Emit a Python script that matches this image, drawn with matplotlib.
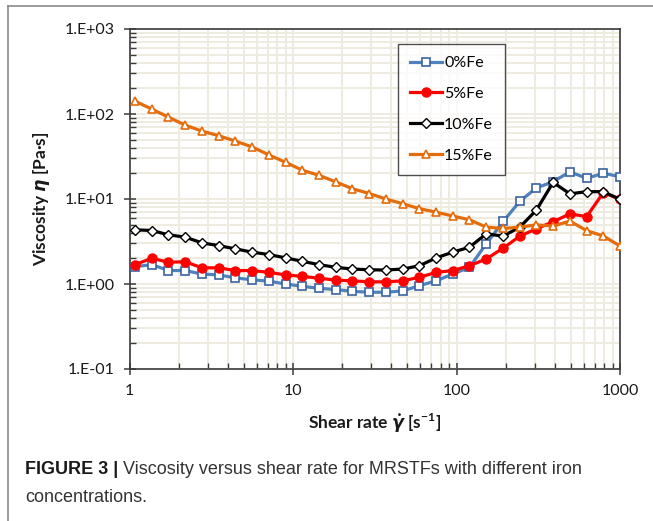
import matplotlib
matplotlib.use("Agg")
import matplotlib.pyplot as plt
from matplotlib.ticker import LogLocator, FixedLocator, FixedFormatter, NullFormatter
from matplotlib.lines import Line2D

# ---- data ----
shear_rate = [1.08, 1.37, 1.73, 2.19, 2.77, 3.51, 4.44, 5.62, 7.12, 9.01,
              11.4, 14.4, 18.3, 23.1, 29.3, 37.0, 46.9, 59.3, 75.1, 95.0,
              120, 152, 193, 244, 308, 390, 494, 625, 791, 1000]
fe0 = [1.60, 1.69, 1.44, 1.44, 1.31, 1.28, 1.18, 1.12, 1.08, 1.00,
       0.94, 0.89, 0.86, 0.82, 0.80, 0.80, 0.83, 0.955, 1.09, 1.31,
       1.57, 2.97, 5.44, 9.4, 13.5, 16.0, 20.9, 17.5, 20.1, 18.3]
fe5 = [1.69, 2.01, 1.80, 1.83, 1.55, 1.55, 1.44, 1.44, 1.37, 1.28,
       1.23, 1.17, 1.11, 1.09, 1.06, 1.06, 1.09, 1.20, 1.37, 1.44,
       1.64, 1.97, 2.64, 3.66, 4.46, 5.4, 6.7, 6.2, 11.9, 9.9]
fe10 = [4.34, 4.26, 3.79, 3.56, 3.05, 2.83, 2.59, 2.37, 2.22, 2.03,
        1.85, 1.69, 1.57, 1.50, 1.47, 1.46, 1.50, 1.64, 2.03, 2.37,
        2.71, 3.89, 3.66, 4.67, 7.4, 15.7, 11.5, 12.2, 12.2, 9.9]
fe15 = [142, 114, 92, 74, 63, 55.5, 48, 41, 33, 27,
        21.8, 19, 15.9, 13.2, 11.6, 10.0, 8.8, 7.7, 7.0, 6.3,
        5.7, 4.67, 4.5, 4.67, 4.97, 4.8, 5.5, 4.24, 3.67, 2.8]
labels = ["0%Fe", "5%Fe", "10%Fe", "15%Fe"]
x_ticks = [1, 10, 100, 1000]
x_ticklabels = ["1", "10", "100", "1000"]
y_ticks = [0.1, 1, 10, 100, 1000]
y_ticklabels = ["1.E-01", "1.E+00", "1.E+01", "1.E+02", "1.E+03"]

plt.rcParams['font.family'] = ['Lato', 'DejaVu Sans']
plt.rcParams['mathtext.fontset'] = 'custom'
plt.rcParams['mathtext.rm'] = 'Lato:bold'
plt.rcParams['mathtext.it'] = 'DejaVu Sans:italic:bold'
plt.rcParams['mathtext.bf'] = 'Lato:bold'

fig = plt.figure(figsize=(6.53, 5.21), dpi=100)
ax = fig.add_axes([129.5/653, 1-369/521, (620-129.5)/653, (369-29)/521])

grid_c = '#eeebe1'
styles = [
    dict(color='#4f81bd', marker='s', mfc='white', mec='#3b64a0', ms=6.0, mew=1.2),
    dict(color='#ff0000', marker='o', mfc='#ff0000', mec='#ff0000', ms=6.5, mew=1.0),
    dict(color='#000000', marker='D', mfc='white', mec='#000000', ms=5.0, mew=1.0),
    dict(color='#e46c0a', marker='^', mfc='white', mec='#e46c0a', ms=6.0, mew=1.2),
]
for ys, lab, st in zip([fe0, fe5, fe10, fe15], labels, styles):
    ax.plot(shear_rate, ys, lw=2.3, label=lab, zorder=3, **st)

ax.set_xscale('log')
ax.set_yscale('log')
ax.set_xlim(1, 1000)
ax.set_ylim(0.1, 1000)

ax.xaxis.set_major_locator(FixedLocator(x_ticks))
ax.xaxis.set_major_formatter(FixedFormatter(x_ticklabels))
ax.yaxis.set_major_locator(FixedLocator(y_ticks))
ax.yaxis.set_major_formatter(FixedFormatter(y_ticklabels))
ax.xaxis.set_minor_locator(LogLocator(base=10, subs=range(2, 10)))
ax.yaxis.set_minor_locator(LogLocator(base=10, subs=range(2, 10)))
ax.xaxis.set_minor_formatter(NullFormatter())
ax.yaxis.set_minor_formatter(NullFormatter())

ax.grid(True, which='both', color=grid_c, lw=1.4, zorder=0)
ax.set_axisbelow(True)

for s in ax.spines.values():
    s.set_color('#3a3a3a')
    s.set_linewidth(1.2)

ax.tick_params(axis='both', which='major', direction='inout', length=9, width=1.1,
               color='#3a3a3a', labelsize=11.5, labelcolor='#1a1a1a')
ax.tick_params(axis='both', which='minor', direction='in', length=4, width=1.0,
               color='#3a3a3a')
ax.tick_params(axis='x', which='major', pad=6)
ax.tick_params(axis='y', which='major', pad=6)

ax.set_xlabel(r'Shear rate $\dot{\gamma}$ [s$^{-1}$]', fontsize=12.5, fontweight='bold',
              labelpad=10, color='#1a1a1a')
ax.set_ylabel(r'Viscosity $\eta$ [Pa·s]', fontsize=12.5, fontweight='bold',
              labelpad=9, color='#1a1a1a')

leg = ax.legend(loc='upper left', bbox_to_anchor=(0.547, 0.956), frameon=True,
                fancybox=False, edgecolor='#222222', fontsize=11.5,
                labelspacing=1.05, handlelength=2.0, handletextpad=0.15,
                borderpad=0.75, borderaxespad=0)
leg.get_frame().set_linewidth(1.0)

# figure frame lines (top and left)
fig.add_artist(Line2D([8/653, 1], [1-6/521, 1-6/521], color='#8a8a8a', lw=1.2))
fig.add_artist(Line2D([8/653, 8/653], [0, 1-6/521], color='#8a8a8a', lw=1.2))

cap_font = ['Liberation Sans Narrow', 'Liberation Sans', 'DejaVu Sans']
t1 = fig.text(25/653, 1-469/521, 'FIGURE 3 |', fontsize=13, fontweight='bold',
              family=cap_font, va='center', ha='left', color='#1a1a1a')
ax.annotate(' Viscosity versus shear rate for MRSTFs with different iron',
            xy=(1, 0), xycoords=t1, va='bottom', ha='left', fontsize=13,
            family=cap_font, color='#333333', annotation_clip=False)
fig.text(25/653, 1-497/521, 'concentrations.', fontsize=13, family=cap_font,
         va='center', ha='left', color='#333333')

fig.savefig('out.png', dpi=100)
